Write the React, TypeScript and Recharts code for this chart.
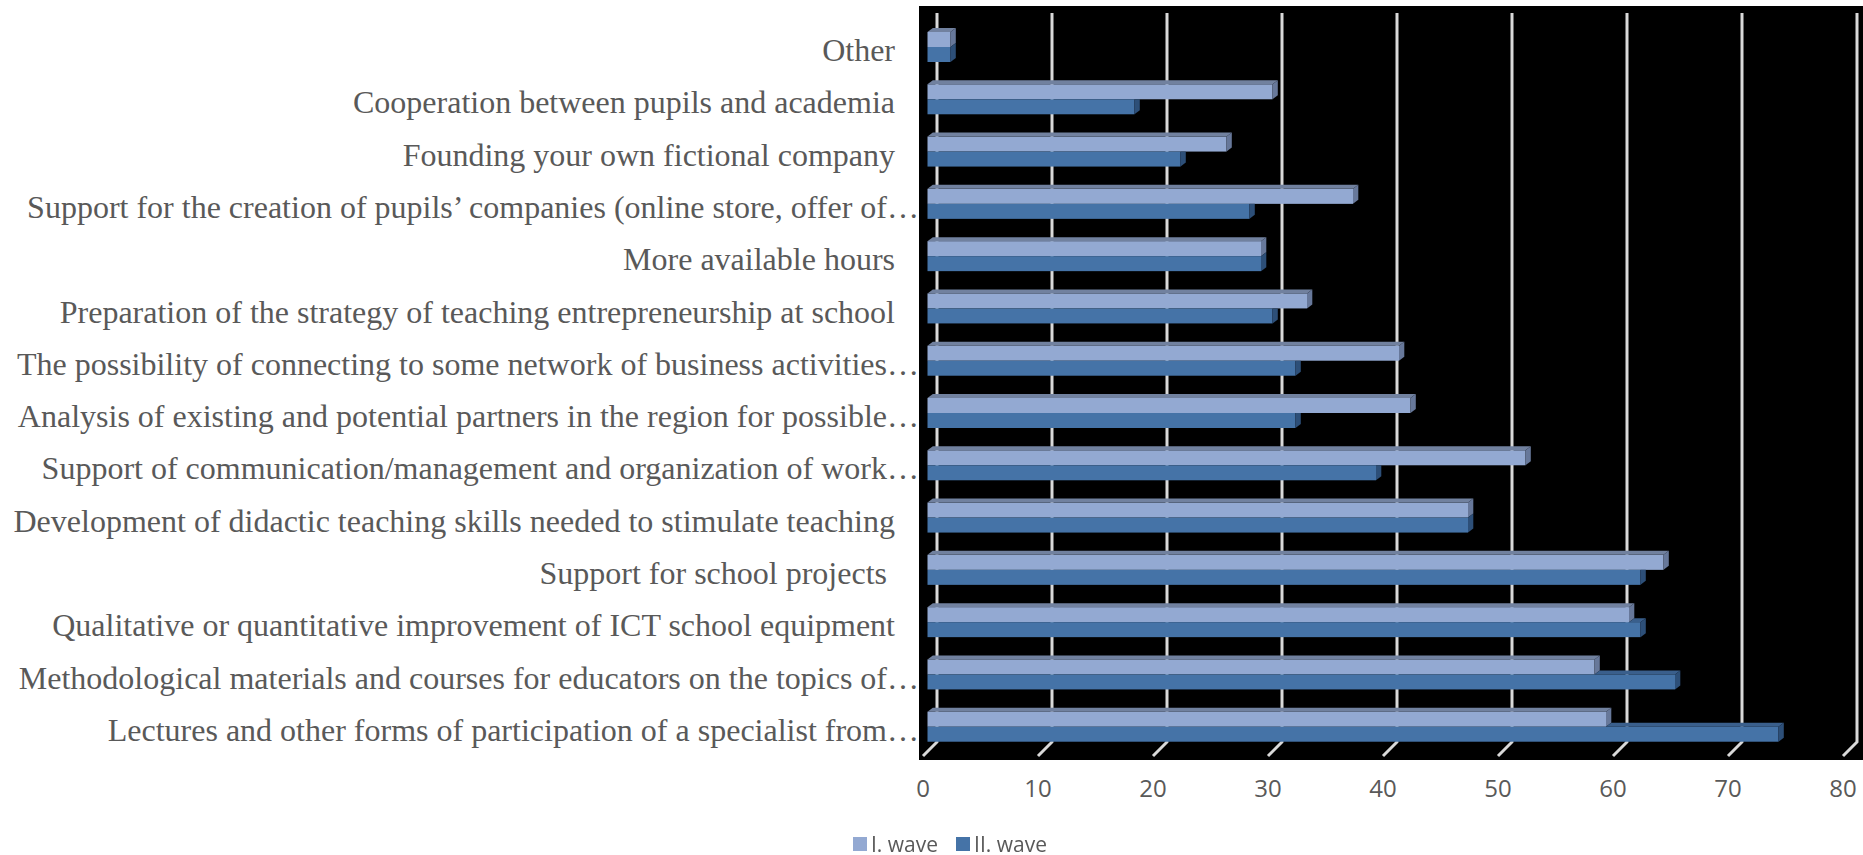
import { Bar, BarChart, CartesianGrid, XAxis, YAxis } from "recharts";

// Survey answers, top to bottom as drawn
const categories = [
  "Other\u00a0\u00a0\u00a0",
  "Cooperation between pupils and academia\u00a0\u00a0\u00a0",
  "Founding your own fictional company\u00a0\u00a0\u00a0",
  "Support for the creation of pupils’ companies (online store, offer of…",
  "More available hours\u00a0\u00a0\u00a0",
  "Preparation of the strategy of teaching entrepreneurship at school\u00a0\u00a0\u00a0",
  "The possibility of connecting to some network of business activities…",
  "Analysis of existing and potential partners in the region for possible…",
  "Support of communication/management and organization of work…",
  "Development of didactic teaching skills needed to stimulate teaching\u00a0\u00a0\u00a0",
  "Support for school projects\u00a0\u00a0\u00a0\u00a0",
  "Qualitative or quantitative improvement of ICT school equipment\u00a0\u00a0\u00a0",
  "Methodological materials and courses for educators on the topics of…",
  "Lectures and other forms of participation of a specialist from…",
];
const waveOne = [2, 30, 26, 37, 29, 33, 41, 42, 52, 47, 64, 61, 58, 59];
const waveTwo = [2, 18, 22, 28, 29, 30, 32, 32, 39, 47, 62, 62, 65, 74];
const xTicks = [0, 10, 20, 30, 40, 50, 60, 70, 80];

const series = [
  { key: "w1", name: "I. wave", front: "#93A9D2", top: "#71819F", side: "#67789A" },
  { key: "w2", name: "II. wave", front: "#4573A7", top: "#3A5F8C", side: "#2D4F78" },
];

const data = categories.map((c, i) => ({ cat: c, w1: waveOne[i], w2: waveTwo[i] }));

const DX = 5.3; // depth of the fake 3D extrusion
const DY = 4;
const GRID_SHIFT = 9.5;
const LABEL_RIGHT = 919;
const GREY = "#595959";
const SANS = "'Liberation Sans Narrow', 'Open Sans', sans-serif";

function Box({ x, y, width, height, payload, s, clipAgainst }: any) {
  const w = Math.max(width, 0);
  let topStart = x;
  let sideTop = y - DY;
  if (clipAgainst) {
    // the lower bar's top face hides behind the upper bar's front face
    const perUnit = payload.w2 ? w / payload.w2 : 0;
    const upper = payload.w1 * perUnit;
    topStart = x + Math.min(upper, w);
    if (w < upper) sideTop = y;
  }
  return (
    <g>
      <rect x={x} y={y} width={w} height={height} fill={s.front} />
      {topStart < x + w || !clipAgainst ? (
        <polygon
          points={`${topStart},${y} ${topStart + DX},${y - DY} ${x + w + DX},${y - DY} ${x + w},${y}`}
          fill={s.top}
        />
      ) : null}
      <polygon
        points={`${x + w},${y} ${x + w + DX},${sideTop} ${x + w + DX},${y + height - DY} ${x + w},${y + height}`}
        fill={s.side}
      />
    </g>
  );
}

function CatTick({ y, payload }: any) {
  return (
    <text
      x={LABEL_RIGHT}
      y={y + 14}
      textAnchor="end"
      fontFamily="'Liberation Serif', 'Times New Roman', serif"
      fontSize={32}
      fill={GREY}
    >
      {payload.value}
    </text>
  );
}

function NumTick({ x, y, payload }: any) {
  return (
    <text x={x - 4.5} y={y + 36} textAnchor="middle" fontFamily={SANS} fontSize={24} fill={GREY}>
      {payload.value}
    </text>
  );
}

function GridLine({ x1, y1, y2 }: any) {
  const gx = x1 + GRID_SHIFT;
  return (
    <path
      d={`M${gx},${y1 - 8} L${gx},${y2 - 11} L${gx - 14},${y2 + 3}`}
      stroke="#D9D9D9"
      strokeWidth={3}
      fill="none"
    />
  );
}

export default function App() {
  return (
    <div style={{ position: "fixed", left: 0, top: 0, width: 1863, height: 855, background: "#fff" }}>
      <div style={{ position: "absolute", left: 919, top: 6, width: 944, height: 754, background: "#000" }} />
      <div style={{ position: "absolute", left: 0, top: 0 }}>
        <BarChart
          width={1863}
          height={855}
          data={data}
          layout="vertical"
          margin={{ top: 21, right: 15.5, bottom: 62, left: 0 }}
          barSize={15}
          barGap={0}
        >
          <CartesianGrid horizontal={false} vertical={GridLine} />
          <XAxis
            type="number"
            domain={[0, 80]}
            ticks={xTicks}
            axisLine={false}
            tickLine={false}
            height={40}
            tick={NumTick}
          />
          <YAxis
            type="category"
            dataKey="cat"
            width={927.5}
            axisLine={false}
            tickLine={false}
            interval={0}
            tick={CatTick}
          />
          <Bar
            dataKey="w1"
            name={series[0].name}
            isAnimationActive={false}
            shape={(p: any) => <Box {...p} s={series[0]} />}
          />
          <Bar
            dataKey="w2"
            name={series[1].name}
            isAnimationActive={false}
            shape={(p: any) => <Box {...p} s={series[1]} clipAgainst />}
          />
        </BarChart>
      </div>
      <div
        style={{
          position: "absolute",
          left: 853,
          top: 835,
          display: "flex",
          alignItems: "center",
          gap: 18,
          fontFamily: SANS,
          fontSize: 21,
          lineHeight: "18px",
          color: GREY,
        }}
      >
        {series.map((s) => (
          <div key={s.key} style={{ display: "flex", alignItems: "center", gap: 4 }}>
            <span style={{ display: "inline-block", width: 14, height: 14, background: s.front }} />
            <span>{s.name}</span>
          </div>
        ))}
      </div>
    </div>
  );
}
